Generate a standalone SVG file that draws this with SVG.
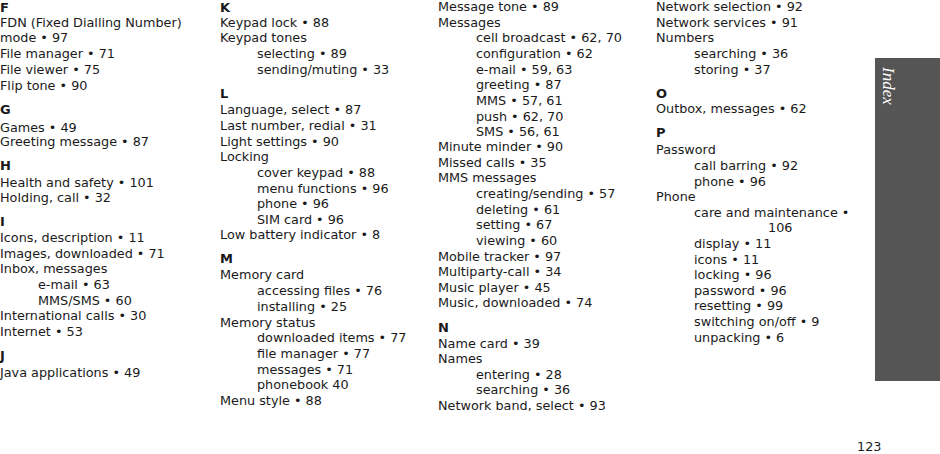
<svg xmlns="http://www.w3.org/2000/svg" width="940" height="454" viewBox="0 0 940 454">
<style>
text{font-family:"DejaVu Sans",Verdana,sans-serif;font-size:12.8px;fill:#1a1a1a}
.h{font-weight:bold;font-size:13px}
.tab{font-family:"Liberation Serif","DejaVu Serif",serif;font-style:italic;font-size:17px;fill:#fff}
</style>
<rect width="940" height="454" fill="#fff"/>
<rect x="875" y="58" width="65" height="323" fill="#555"/>
<text class="tab" transform="translate(883,67) rotate(90)">Index</text>
<text x="857" y="451">123</text>
<g id="col1">
<text class="h" x="0" y="12">F</text>
<text x="0" y="27">FDN (Fixed Dialling Number)</text>
<text x="0" y="42">mode • 97</text>
<text x="0" y="58">File manager • 71</text>
<text x="0" y="74">File viewer • 75</text>
<text x="0" y="90">Flip tone • 90</text>
<text class="h" x="0" y="114">G</text>
<text x="0" y="132">Games • 49</text>
<text x="0" y="146">Greeting message • 87</text>
<text class="h" x="0" y="170">H</text>
<text x="0" y="187">Health and safety • 101</text>
<text x="0" y="202">Holding, call • 32</text>
<text class="h" x="0" y="226">I</text>
<text x="0" y="242">Icons, description • 11</text>
<text x="0" y="258">Images, downloaded • 71</text>
<text x="0" y="273">Inbox, messages</text>
<text x="38" y="289">e-mail • 63</text>
<text x="38" y="305">MMS/SMS • 60</text>
<text x="0" y="320">International calls • 30</text>
<text x="0" y="336">Internet • 53</text>
<text class="h" x="0" y="360">J</text>
<text x="0" y="377">Java applications • 49</text>
</g>
<g id="col2">
<text class="h" x="220" y="12">K</text>
<text x="220" y="27">Keypad lock • 88</text>
<text x="220" y="42">Keypad tones</text>
<text x="257" y="58">selecting • 89</text>
<text x="257" y="74">sending/muting • 33</text>
<text class="h" x="220" y="98">L</text>
<text x="220" y="114">Language, select • 87</text>
<text x="220" y="130">Last number, redial • 31</text>
<text x="220" y="146">Light settings • 90</text>
<text x="220" y="161">Locking</text>
<text x="257" y="177">cover keypad • 88</text>
<text x="257" y="193">menu functions • 96</text>
<text x="257" y="208">phone • 96</text>
<text x="257" y="224">SIM card • 96</text>
<text x="220" y="239">Low battery indicator • 8</text>
<text class="h" x="220" y="263">M</text>
<text x="220" y="279">Memory card</text>
<text x="257" y="295">accessing files • 76</text>
<text x="257" y="311">installing • 25</text>
<text x="220" y="327">Memory status</text>
<text x="257" y="342">downloaded items • 77</text>
<text x="257" y="358">file manager • 77</text>
<text x="257" y="374">messages • 71</text>
<text x="257" y="389">phonebook 40</text>
<text x="220" y="405">Menu style • 88</text>
</g>
<g id="col3">
<text x="438" y="11">Message tone • 89</text>
<text x="438" y="27">Messages</text>
<text x="476" y="42">cell broadcast • 62, 70</text>
<text x="476" y="58">configuration • 62</text>
<text x="476" y="74">e-mail • 59, 63</text>
<text x="476" y="89">greeting • 87</text>
<text x="476" y="105">MMS • 57, 61</text>
<text x="476" y="121">push • 62, 70</text>
<text x="476" y="136">SMS • 56, 61</text>
<text x="438" y="151">Minute minder • 90</text>
<text x="438" y="167">Missed calls • 35</text>
<text x="438" y="182">MMS messages</text>
<text x="476" y="198">creating/sending • 57</text>
<text x="476" y="214">deleting • 61</text>
<text x="476" y="229">setting • 67</text>
<text x="476" y="245">viewing • 60</text>
<text x="438" y="261">Mobile tracker • 97</text>
<text x="438" y="276">Multiparty-call • 34</text>
<text x="438" y="292">Music player • 45</text>
<text x="438" y="307">Music, downloaded • 74</text>
<text class="h" x="438" y="332">N</text>
<text x="438" y="348">Name card • 39</text>
<text x="438" y="363">Names</text>
<text x="476" y="379">entering • 28</text>
<text x="476" y="394">searching • 36</text>
<text x="438" y="410">Network band, select • 93</text>
</g>
<g id="col4">
<text x="656" y="11">Network selection • 92</text>
<text x="656" y="27">Network services • 91</text>
<text x="656" y="42">Numbers</text>
<text x="694" y="58">searching • 36</text>
<text x="694" y="74">storing • 37</text>
<text class="h" x="656" y="98">O</text>
<text x="656" y="113">Outbox, messages • 62</text>
<text class="h" x="656" y="137">P</text>
<text x="656" y="154">Password</text>
<text x="694" y="170">call barring • 92</text>
<text x="694" y="186">phone • 96</text>
<text x="656" y="201">Phone</text>
<text x="694" y="217">care and maintenance •</text>
<text x="768" y="232">106</text>
<text x="694" y="248">display • 11</text>
<text x="694" y="264">icons • 11</text>
<text x="694" y="279">locking • 96</text>
<text x="694" y="295">password • 96</text>
<text x="694" y="310">resetting • 99</text>
<text x="694" y="326">switching on/off • 9</text>
<text x="694" y="342">unpacking • 6</text>
</g>
</svg>
